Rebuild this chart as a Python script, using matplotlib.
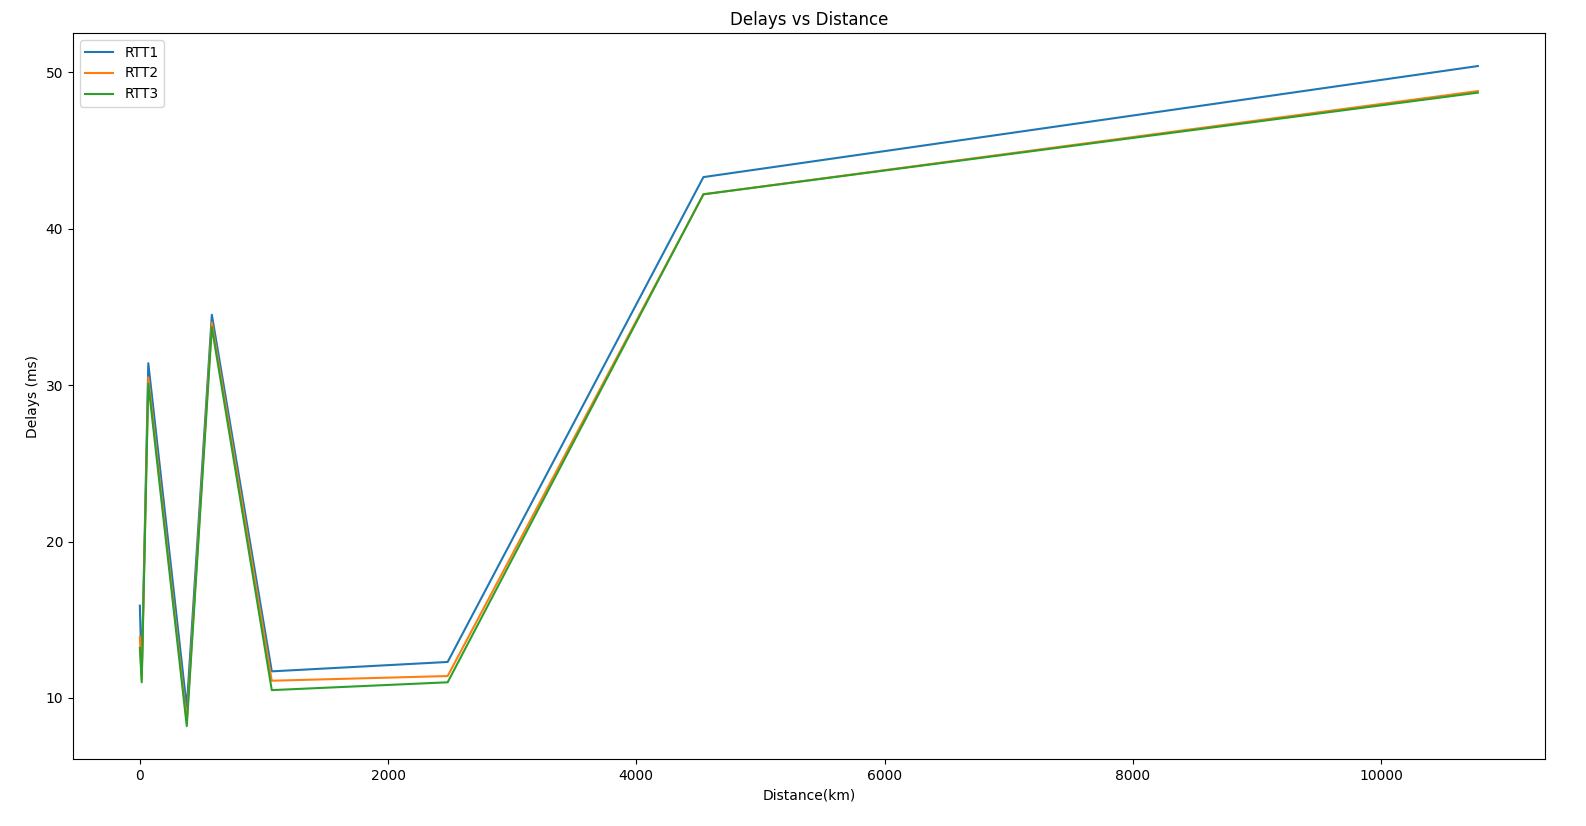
import matplotlib.pyplot as plt

distance = [0, 15, 68, 378, 580, 1063, 2480, 4541, 10781]
rtt1 = [15.9, 11.5, 31.4, 9.4, 34.5, 11.7, 12.3, 43.3, 50.4]
rtt2 = [13.9, 11.2, 30.5, 8.5, 34.0, 11.1, 11.4, 42.2, 48.8]
rtt3 = [13.2, 11.0, 30.1, 8.2, 33.7, 10.5, 11.0, 42.2, 48.7]

fig, ax = plt.subplots(figsize=(15.86, 8.26), dpi=100)
ax.plot(distance, rtt1, label='RTT1')
ax.plot(distance, rtt2, label='RTT2')
ax.plot(distance, rtt3, label='RTT3')
ax.set_title('Delays vs Distance')
ax.set_xlabel('Distance(km)')
ax.set_ylabel('Delays (ms)')
ax.legend(loc='upper left')
fig.subplots_adjust(left=0.046, right=0.974, top=0.96, bottom=0.081)
fig.savefig('out.png')
